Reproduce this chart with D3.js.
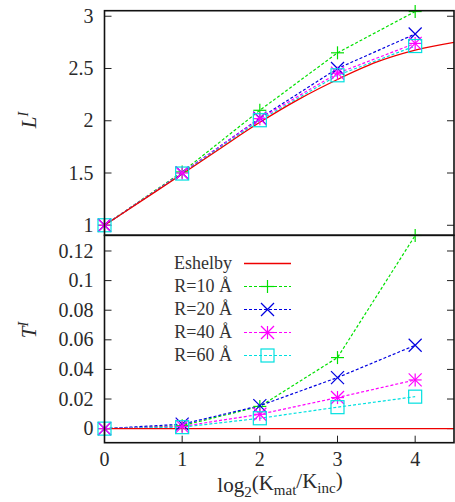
<!DOCTYPE html>
<html><head><meta charset="utf-8">
<script src="https://cdn.jsdelivr.net/npm/d3@7"></script>
<style>body{margin:0;background:#fff}svg{display:block}</style>
</head><body><svg id="c" width="455" height="502"></svg>
<script>
const xVals = [0, 1, 2, 3, 4];
const eshX = [0, 0.5, 1, 1.5, 2, 2.5, 3, 3.5, 4, 4.5];
const eshL = [1.0, 1.245, 1.49, 1.74, 1.985, 2.205, 2.395, 2.56, 2.675, 2.75];
const eshT = [0, 0, 0, 0, 0, 0, 0, 0, 0, 0];
const seriesNames = ["R=10 Å", "R=20 Å", "R=40 Å", "R=60 Å"];
const seriesColors = ["#00e000", "#0000e0", "#ff00ff", "#00e0e0"];
const seriesMarkers = ["plus", "cross", "star", "square"];
const L10 = [1.0, 1.51, 2.10, 2.65, 3.045];
const L20 = [1.0, 1.50, 2.025, 2.50, 2.83];
const L40 = [1.0, 1.50, 2.02, 2.455, 2.74];
const L60 = [1.0, 1.495, 2.005, 2.435, 2.715];
const T10 = [0, 0.002, 0.015, 0.048, 0.1305];
const T20 = [0, 0.003, 0.0155, 0.0345, 0.0563];
const T40 = [0, 0.0015, 0.0097, 0.021, 0.0329];
const T60 = [0, 0.001, 0.007, 0.0145, 0.0216];
const xTicks = [0, 1, 2, 3, 4];
const lTicks = [1, 1.5, 2, 2.5, 3];
const tTicks = [0, 0.02, 0.04, 0.06, 0.08, 0.1, 0.12];

const FONT = "Liberation Serif";
const svg = d3.select("#c");
const left = 104.5, right = 454;
const x = d3.scaleLinear().domain([0, 4.5]).range([left, right]);
const yL = d3.scaleLinear().domain([0.904, 3.053]).range([235.3, 10.7]);
const yT = d3.scaleLinear().domain([-0.0095, 0.1306]).range([442.7, 235.3]);
const fs = 20;
const txt = "#2a2a2a";

function marker(g, type, cx, cy, col) {
  const s = 6.5;
  const p = g.append("g").attr("stroke", col).attr("stroke-width", 1.2).attr("fill", "none");
  if (type === "plus" || type === "star") {
    p.append("line").attr("x1", cx - s).attr("x2", cx + s).attr("y1", cy).attr("y2", cy);
    p.append("line").attr("x1", cx).attr("x2", cx).attr("y1", cy - s).attr("y2", cy + s);
  }
  if (type === "cross" || type === "star") {
    p.append("line").attr("x1", cx - s).attr("x2", cx + s).attr("y1", cy - s).attr("y2", cy + s);
    p.append("line").attr("x1", cx - s).attr("x2", cx + s).attr("y1", cy + s).attr("y2", cy - s);
  }
  if (type === "square") {
    p.append("rect").attr("x", cx - s).attr("y", cy - s).attr("width", 2 * s).attr("height", 2 * s);
  }
}

function panel(y, esh, series, ticks, fmt, bottomTicks) {
  const g = svg.append("g");
  const [y0, y1] = y.range();
  const clipId = "clip" + Math.round(y0);
  svg.append("clipPath").attr("id", clipId).append("rect")
    .attr("x", left).attr("y", y1).attr("width", right - left).attr("height", y0 - y1);
  const ax = g.append("g").attr("stroke", "#222").attr("stroke-width", 1);
  ticks.forEach(t => {
    ax.append("line").attr("x1", left).attr("x2", left + 7).attr("y1", y(t)).attr("y2", y(t));
    ax.append("line").attr("x1", right - 7).attr("x2", right).attr("y1", y(t)).attr("y2", y(t));
    g.append("text").attr("x", left - 11).attr("y", y(t)).attr("dy", "0.33em").attr("fill", txt)
      .attr("font-family", FONT).attr("text-anchor", "end").attr("font-size", fs).text(fmt(t));
  });
  if (bottomTicks) {
    xTicks.forEach(t => {
      ax.append("line").attr("x1", x(t)).attr("x2", x(t)).attr("y1", y0).attr("y2", y0 - 7);
      g.append("text").attr("x", x(t)).attr("y", 466).attr("text-anchor", "middle").attr("fill", txt)
        .attr("font-family", FONT).attr("font-size", fs).text(t);
    });
  }
  const plot = g.append("g").attr("clip-path", `url(#${clipId})`);
  const line = d3.line().x(d => x(d[0])).y(d => y(d[1]));
  const eshLine = d3.line().curve(d3.curveMonotoneX).x(d => x(d[0])).y(d => y(d[1]));
  series.forEach((vals, i) => {
    plot.append("path").attr("d", line(xVals.map((v, j) => [v, vals[j]])))
      .attr("fill", "none").attr("stroke", seriesColors[i]).attr("stroke-width", 1.2)
      .attr("stroke-dasharray", "3,2");
  });
  plot.append("path").attr("d", eshLine(eshX.map((v, j) => [v, esh[j]])))
    .attr("fill", "none").attr("stroke", "#ee0000").attr("stroke-width", 1.3);
  series.forEach((vals, i) => {
    xVals.forEach((v, j) => marker(g, seriesMarkers[i], x(v), y(vals[j]), seriesColors[i]));
  });
  g.append("rect").attr("x", left).attr("y", y1).attr("width", right - left).attr("height", y0 - y1)
    .attr("fill", "none").attr("stroke", "#111").attr("stroke-width", 1.6);
}

panel(yL, eshL, [L10, L20, L40, L60], lTicks, d => d3.format("")(d), false);
panel(yT, eshT, [T10, T20, T40, T60], tTicks, d => d3.format("")(d), true);

const leg = svg.append("g");
const legNames = ["Eshelby"].concat(seriesNames);
legNames.forEach((n, i) => {
  const yy = 263.5 + i * 23;
  leg.append("text").attr("x", 232).attr("y", yy).attr("dy", "0.33em").attr("text-anchor", "end")
    .attr("font-family", FONT).attr("fill", "#333").attr("font-size", 18).text(n);
  if (i === 0) {
    leg.append("line").attr("x1", 244).attr("x2", 291).attr("y1", yy).attr("y2", yy)
      .attr("stroke", "#ee0000").attr("stroke-width", 1.3);
  } else {
    leg.append("line").attr("x1", 244).attr("x2", 291).attr("y1", yy).attr("y2", yy)
      .attr("stroke", seriesColors[i - 1]).attr("stroke-width", 1.2).attr("stroke-dasharray", "3,2");
    marker(leg, seriesMarkers[i - 1], 267.5, yy, seriesColors[i - 1]);
  }
});

const lab1 = svg.append("text").attr("transform", "translate(36,120) rotate(-90)").attr("fill", txt)
  .attr("font-family", FONT).attr("text-anchor", "middle").attr("font-size", 21).attr("font-style", "italic");
lab1.append("tspan").text("L");
lab1.append("tspan").attr("font-size", 14).attr("dy", "-0.6em").text("I");
const lab2 = svg.append("text").attr("transform", "translate(36,330) rotate(-90)").attr("fill", txt)
  .attr("font-family", FONT).attr("text-anchor", "middle").attr("font-size", 21).attr("font-style", "italic");
lab2.append("tspan").text("T");
lab2.append("tspan").attr("font-size", 14).attr("dy", "-0.6em").text("I");

const xl = svg.append("text").attr("x", 280).attr("y", 492).attr("text-anchor", "middle")
  .attr("font-family", FONT).attr("font-size", 21).attr("fill", txt);
xl.append("tspan").text("log");
xl.append("tspan").attr("font-size", 15).attr("dy", "0.3em").text("2");
xl.append("tspan").attr("dy", "-0.3em").text("(K");
xl.append("tspan").attr("font-size", 15).attr("dy", "0.3em").text("mat");
xl.append("tspan").attr("dy", "-0.3em").text("/K");
xl.append("tspan").attr("font-size", 15).attr("dy", "0.3em").text("inc");
xl.append("tspan").attr("dy", "-0.3em").text(")");
</script></body></html>
